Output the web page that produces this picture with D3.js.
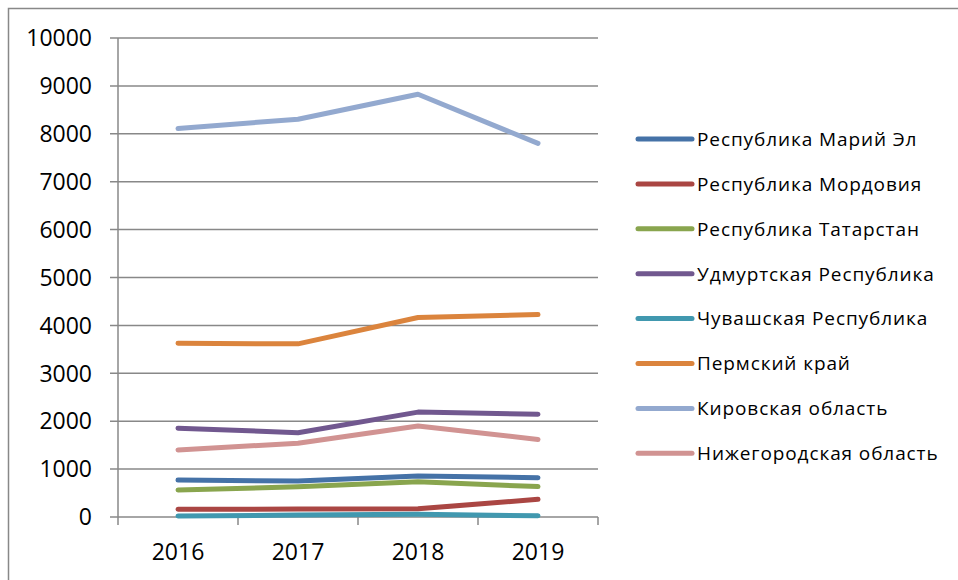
<!DOCTYPE html>
<html>
<head>
<meta charset="utf-8">
<script src="https://cdn.jsdelivr.net/npm/d3@7"></script>
<style>
  body { margin: 0; background: #fff; }
  svg { display: block; font-family: "Open Sans", "Noto Sans", sans-serif; }
</style>
</head>
<body>
<svg width="958" height="580"></svg>
<script>
const years = ["2016", "2017", "2018", "2019"];
const regions = [
  "Республика Марий Эл",
  "Республика Мордовия",
  "Республика Татарстан",
  "Удмуртская Республика",
  "Чувашская Республика",
  "Пермский край",
  "Кировская область",
  "Нижегородская область"
];
const colors = ["#4572A7", "#AA4643", "#89A54E", "#71588F", "#4198AF", "#DB843D", "#93A9CF", "#D19392"];

const mariEl = [770, 750, 855, 820];
const mordovia = [160, 165, 170, 370];
const tatarstan = [565, 630, 735, 635];
const udmurtia = [1855, 1760, 2190, 2145];
const chuvashia = [20, 40, 55, 25];
const perm = [3625, 3615, 4165, 4225];
const kirov = [8110, 8305, 8825, 7800];
const nizhny = [1400, 1540, 1900, 1620];
const yTicks = [0, 1000, 2000, 3000, 4000, 5000, 6000, 7000, 8000, 9000, 10000];

const series = [mariEl, mordovia, tatarstan, udmurtia, chuvashia, perm, kirov, nizhny];

const svg = d3.select("svg");
const grid = "#888888";

// outer chart border
svg.append("rect")
  .attr("x", 8.5).attr("y", 8.5)
  .attr("width", 980).attr("height", 600)
  .attr("fill", "none").attr("stroke", grid).attr("stroke-width", 1.5);

const plotL = 118, plotR = 598, plotT = 38, plotB = 517;

const x = d3.scaleBand().domain(years).range([plotL, plotR]);
const y = d3.scaleLinear().domain([0, 10000]).range([plotB, plotT]);

// horizontal gridlines
svg.append("g")
  .selectAll("line")
  .data(yTicks)
  .join("line")
  .attr("x1", plotL - 8).attr("x2", plotR)
  .attr("y1", d => y(d)).attr("y2", d => y(d))
  .attr("stroke", grid).attr("stroke-width", 1.5);

// y axis line
svg.append("line")
  .attr("x1", plotL).attr("x2", plotL)
  .attr("y1", plotT).attr("y2", plotB + 8)
  .attr("stroke", grid).attr("stroke-width", 1.5);

// x tick marks at band edges
const edges = years.map(d => x(d)).concat([plotR]);
svg.append("g")
  .selectAll("line")
  .data(edges.slice(1))
  .join("line")
  .attr("x1", d => d).attr("x2", d => d)
  .attr("y1", plotB).attr("y2", plotB + 8)
  .attr("stroke", grid).attr("stroke-width", 1.5);

// y labels
svg.append("g")
  .selectAll("text")
  .data(yTicks)
  .join("text")
  .attr("x", 92)
  .attr("y", d => y(d))
  .attr("dy", "0.36em")
  .attr("text-anchor", "end")
  .attr("font-size", 23)
  .attr("fill", "#000")
  .text(d => d);

// x labels
svg.append("g")
  .selectAll("text")
  .data(years)
  .join("text")
  .attr("x", d => x(d) + x.bandwidth() / 2)
  .attr("y", 560)
  .attr("text-anchor", "middle")
  .attr("font-size", 23)
  .attr("fill", "#000")
  .text(d => d);

// lines
const line = d3.line()
  .x((d, i) => x(years[i]) + x.bandwidth() / 2)
  .y(d => y(d));

svg.append("g")
  .selectAll("path")
  .data(series)
  .join("path")
  .attr("d", d => line(d))
  .attr("fill", "none")
  .attr("stroke", (d, i) => colors[i])
  .attr("stroke-width", 5)
  .attr("stroke-linecap", "round")
  .attr("stroke-linejoin", "round");

// legend
const legend = svg.append("g")
  .selectAll("g")
  .data(regions)
  .join("g")
  .attr("transform", (d, i) => `translate(638, ${139 + i * 44.9})`);

legend.append("line")
  .attr("x1", 0).attr("x2", 54)
  .attr("stroke", (d, i) => colors[i])
  .attr("stroke-width", 5)
  .attr("stroke-linecap", "round");

legend.append("text")
  .attr("x", 59)
  .attr("dy", "0.36em")
  .attr("font-size", 19)
  .attr("letter-spacing", 0.9)
  .attr("fill", "#000")
  .text(d => d);
</script>
</body>
</html>
